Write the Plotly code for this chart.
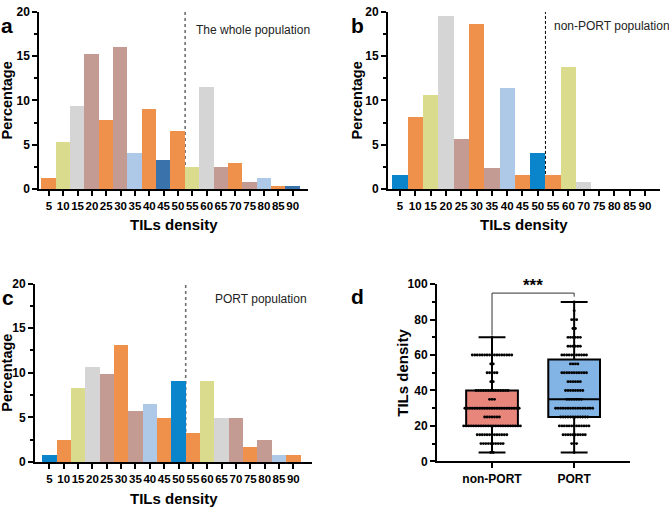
import plotly.graph_objects as go

# ---------------- data ----------------
cats_all = ["5", "10", "15", "20", "25", "30", "35", "40", "45", "50",
            "55", "60", "65", "70", "75", "80", "85", "90"]
cats_nonport = ["5", "10", "15", "20", "25", "30", "35", "40", "45", "50",
                "55", "60", "70", "75", "80", "85", "90"]
pct_whole = [1.2, 5.3, 9.4, 15.2, 7.8, 16.0, 4.1, 9.0, 3.3, 6.6,
             2.5, 11.5, 2.5, 2.9, 0.8, 1.2, 0.4, 0.4]
pct_nonport = [1.6, 8.1, 10.6, 19.5, 5.7, 18.7, 2.4, 11.4, 1.6, 4.1,
               1.6, 13.8, 0.8, 0, 0, 0, 0]
pct_port = [0.8, 2.5, 8.3, 10.7, 9.9, 13.2, 5.8, 6.6, 5.0, 9.1,
            3.3, 9.1, 5.0, 5.0, 1.7, 2.5, 0.8, 0.8]

tils_values = [5, 10, 15, 20, 25, 30, 35, 40, 45, 50, 55, 60, 65, 70, 75, 80, 85, 90]
nonport_counts = [2, 10, 13, 24, 7, 23, 3, 14, 2, 5, 2, 17, 0, 1, 0, 0, 0, 0]
port_counts = [1, 3, 10, 13, 12, 16, 7, 8, 6, 11, 4, 11, 6, 6, 2, 3, 1, 1]
groups = ["non-PORT", "PORT"]

# ---------------- styles ----------------
OR, YE, GR, BR, LB, DB, BL = ("#F0914B", "#DADB8D", "#D5D5D5", "#C49B93",
                              "#AEC8E8", "#3A72AC", "#0A85CC")
colors_a = [OR, YE, GR, BR, OR, BR, LB, OR, DB, OR, YE, GR, BR, OR, BR, LB, OR, DB]
colors_b = [BL, OR, YE, GR, BR, OR, BR, LB, OR, BL, OR, YE, GR, GR, GR, GR, GR]
colors_c = [BL, OR, YE, GR, BR, OR, BR, LB, OR, BL, OR, YE, GR, BR, OR, BR, LB, OR]
box_fill = ["#E9867C", "#82B4E6"]

W, H = 669, 515
FONT = "Liberation Sans, Arial, sans-serif"


def px(x):
    return x / W


def py(y):
    return 1 - y / H


fig = go.Figure()

fig.add_trace(go.Bar(x=cats_all, y=pct_whole, marker=dict(color=colors_a, line=dict(width=0)),
                     xaxis="x", yaxis="y", showlegend=False))
fig.add_trace(go.Bar(x=cats_nonport, y=pct_nonport, marker=dict(color=colors_b, line=dict(width=0)),
                     xaxis="x2", yaxis="y2", showlegend=False))
fig.add_trace(go.Bar(x=cats_all, y=pct_port, marker=dict(color=colors_c, line=dict(width=0)),
                     xaxis="x3", yaxis="y3", showlegend=False))

# panel d: boxes + dot rows
spacing = 0.030
for gi, counts in enumerate([nonport_counts, port_counts]):
    vals = []
    for v, c in zip(tils_values, counts):
        vals += [v] * c
    fig.add_trace(go.Box(y=vals, x=[gi] * len(vals), width=0.63, whiskerwidth=0.52,
                         quartilemethod="exclusive", boxpoints=False,
                         fillcolor=box_fill[gi], line=dict(color="black", width=2),
                         xaxis="x4", yaxis="y4", showlegend=False, name=groups[gi]))
for gi, counts in enumerate([nonport_counts, port_counts]):
    xs, ys = [], []
    for v, c in zip(tils_values, counts):
        for j in range(c):
            xs.append(gi + (j - (c - 1) / 2) * spacing)
            ys.append(v)
    fig.add_trace(go.Scatter(x=xs, y=ys, mode="markers",
                             marker=dict(color="black", size=2.9, line=dict(width=0)),
                             xaxis="x4", yaxis="y4", showlegend=False, cliponaxis=False))

tickfont = dict(family=FONT, size=12, color="black", weight="bold")
xtickfont = dict(family=FONT, size=11.5, color="black", weight="bold")


def xcat(domain, anchor, rng):
    return dict(domain=domain, anchor=anchor, type="category", range=rng,
                showline=True, linewidth=2, linecolor="black", ticks="outside",
                ticklen=5, tickwidth=1.5, tickcolor="black", showgrid=False,
                zeroline=False, tickfont=xtickfont, tickangle=0)


def ybar(domain, anchor):
    return dict(domain=domain, anchor=anchor, range=[0, 20], dtick=5,
                showline=True, linewidth=2, linecolor="black", ticks="outside",
                ticklen=5, tickwidth=1.5, tickcolor="black", showgrid=False,
                zeroline=False, tickfont=tickfont,
                minor=dict(dtick=2.5, ticks="outside", ticklen=3, tickwidth=1.5,
                           tickcolor="black", showgrid=False))


layout = dict(
    width=W, height=H, margin=dict(l=0, r=0, t=0, b=0),
    paper_bgcolor="white", plot_bgcolor="white",
    bargap=0, boxmode="overlay",
    xaxis=xcat([px(39.3), px(308)], "y", [-0.67, 18.07]),
    yaxis=ybar([py(187), py(5)], "x"),
    xaxis2=xcat([px(388), px(660)], "y2", [-0.78, 16.98]),
    yaxis2=ybar([py(187), py(5)], "x2"),
    xaxis3=xcat([px(35), px(312)], "y3", [-1.0, 18.3]),
    yaxis3=ybar([py(467.7), py(284.3)], "x3"),
    xaxis4=dict(domain=[px(437), px(630)], anchor="y4", range=[-0.67, 1.68],
                tickvals=[0, 1], ticktext=groups, showline=True, linewidth=2,
                linecolor="black", ticks="outside", ticklen=5, tickwidth=1.5,
                tickcolor="black", showgrid=False, zeroline=False, tickangle=0,
                tickfont=dict(family=FONT, size=12, color="black", weight="bold")),
    yaxis4=dict(domain=[py(467), py(285)], anchor="x4", range=[0, 100], dtick=20,
                showline=True, linewidth=2, linecolor="black", ticks="outside",
                ticklen=5, tickwidth=1.5, tickcolor="black", showgrid=False,
                zeroline=False, tickfont=tickfont,
                minor=dict(dtick=10, ticks="outside", ticklen=3, tickwidth=1.5,
                           tickcolor="black", showgrid=False)),
)
fig.update_layout(**layout)

# dashed cut-off lines (behind bars)
fig.add_shape(type="line", xref="x", yref="y", x0=9.5, x1=9.5, y0=0, y1=20,
              line=dict(color="#6e6e6e", width=1.6, dash="dot"), layer="below")
fig.add_shape(type="line", xref="x2", yref="y2", x0=9.5, x1=9.5, y0=0, y1=20,
              line=dict(color="black", width=1, dash="3px,2px"), layer="below")
fig.add_shape(type="line", xref="x3", yref="y3", x0=9.5, x1=9.5, y0=0, y1=20,
              line=dict(color="#6e6e6e", width=1.6, dash="dot"), layer="below")
# significance bracket
fig.add_shape(type="path", xref="x4", yref="y4",
              path="M 0,71 L 0,95 L 1,95 L 1,93",
              line=dict(color="#333333", width=1))

ann = []


def A(text, x, y, size, bold=True, angle=0, xanchor="center", color="black"):
    ann.append(dict(text=text, x=px(x), y=py(y), xref="paper", yref="paper",
                    showarrow=False, xanchor=xanchor, yanchor="middle",
                    textangle=angle,
                    font=dict(family=FONT, size=size, color=color,
                              weight="bold" if bold else "normal")))


# panel letters
A("a", 7, 19, 21)
A("b", 357, 19, 21)
A("c", 7.5, 299, 21)
A("d", 357, 298, 21)
# y titles
A("Percentage", 7, 96, 14.5, angle=-90)
A("Percentage", 357, 96, 14.5, angle=-90)
A("Percentage", 7, 376, 14.5, angle=-90)
A("TILs density", 403, 376, 15, angle=-90)
# x titles
A("TILs density", 173.6, 224, 15)
A("TILs density", 524, 224, 15)
A("TILs density", 173.5, 505, 15)
# population labels
A("The whole population", 194, 24, 12, bold=False, xanchor="left", color="#222222")
A("non-PORT population", 552, 20, 12, bold=False, xanchor="left", color="#222222")
A("PORT population", 213, 300, 12, bold=False, xanchor="left", color="#222222")
# significance
A("***", 533, 286, 17)

fig.update_layout(annotations=ann)
fig.write_html("out.html")
